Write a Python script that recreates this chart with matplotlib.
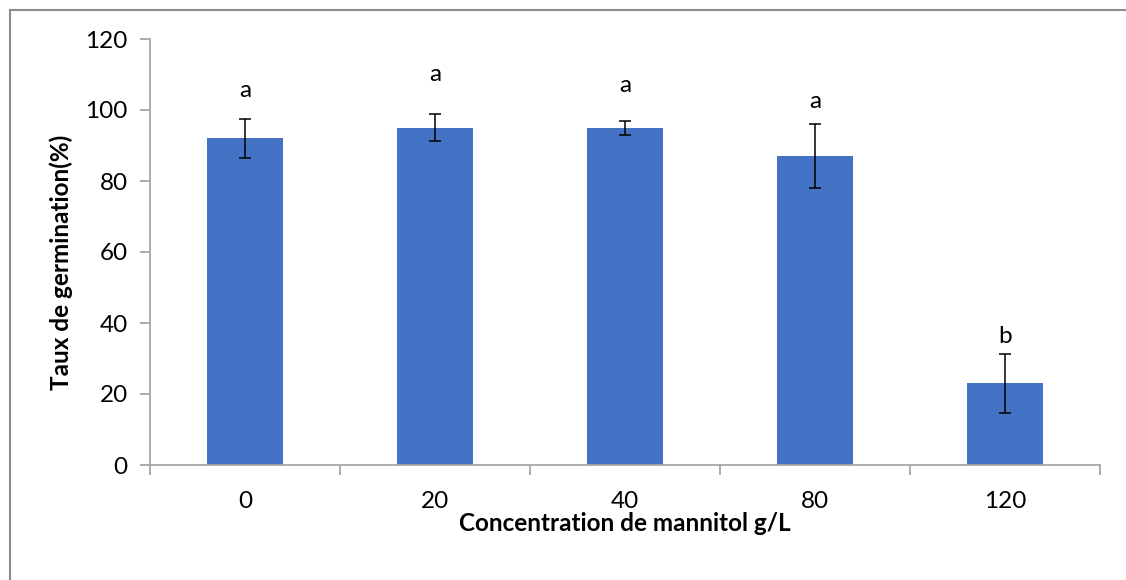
import matplotlib
matplotlib.use("Agg")
import matplotlib.pyplot as plt
from matplotlib.lines import Line2D

# values
concentrations = ["0", "20", "40", "80", "120"]
germination = [92, 95, 95, 87, 23]
errors = [5.6, 3.8, 2.0, 9.0, 8.3]
letters = ["a", "a", "a", "a", "b"]
letter_y = [105.4, 109.9, 106.8, 102.3, 36.3]

plt.rcParams['font.family'] = ['Lato', 'DejaVu Sans']
FS = 17.5

fig = plt.figure(figsize=(11.26, 5.8), dpi=100)
ax = fig.add_axes([150/1126, 115/580, 950/1126, 426/580])

x = range(len(concentrations))
ax.bar(x, germination, width=0.4, color="#4472C4", zorder=2)
ax.errorbar(x, germination, yerr=errors, fmt="none", ecolor="black",
            elinewidth=1.1, capsize=4.5, capthick=1.1, zorder=3)
for i, (lab, ly) in enumerate(zip(letters, letter_y)):
    ax.text(i, ly, lab, ha="center", va="center", fontsize=FS)

ax.set_xlim(-0.5, 4.5)
ax.set_ylim(0, 120)
ax.set_yticks(range(0, 121, 20))
ax.set_xticks(list(x))
ax.set_xticklabels(concentrations)
ax.set_xticks([i - 0.5 for i in range(len(concentrations) + 1)], minor=True)

axis_col = "#a6a6a6"
for s in ("top", "right"):
    ax.spines[s].set_visible(False)
for s in ("left", "bottom"):
    ax.spines[s].set_color(axis_col)
    ax.spines[s].set_linewidth(1.3)

ax.tick_params(axis="y", length=7, width=1.3, color=axis_col, labelsize=FS, pad=9)
ax.tick_params(axis="x", which="major", length=0, labelsize=FS, pad=19)
ax.tick_params(axis="x", which="minor", length=7, width=1.3, color=axis_col)

ax.set_xlabel("Concentration de mannitol g/L", fontsize=FS, fontweight="bold", labelpad=0)
ax.set_ylabel("Taux de germination(%)", fontsize=FS, fontweight="bold")
ax.yaxis.set_label_coords(-0.081, 0.475)

# outer chart frame (only left and top edges visible in the reference)
fig.add_artist(Line2D([10/1126, 10/1126], [0, 1 - 10/580], transform=fig.transFigure,
                      color="#8c8c8c", linewidth=1.5))
fig.add_artist(Line2D([10/1126, 1], [1 - 10/580, 1 - 10/580], transform=fig.transFigure,
                      color="#8c8c8c", linewidth=1.5))

fig.savefig("out.png", dpi=100)
